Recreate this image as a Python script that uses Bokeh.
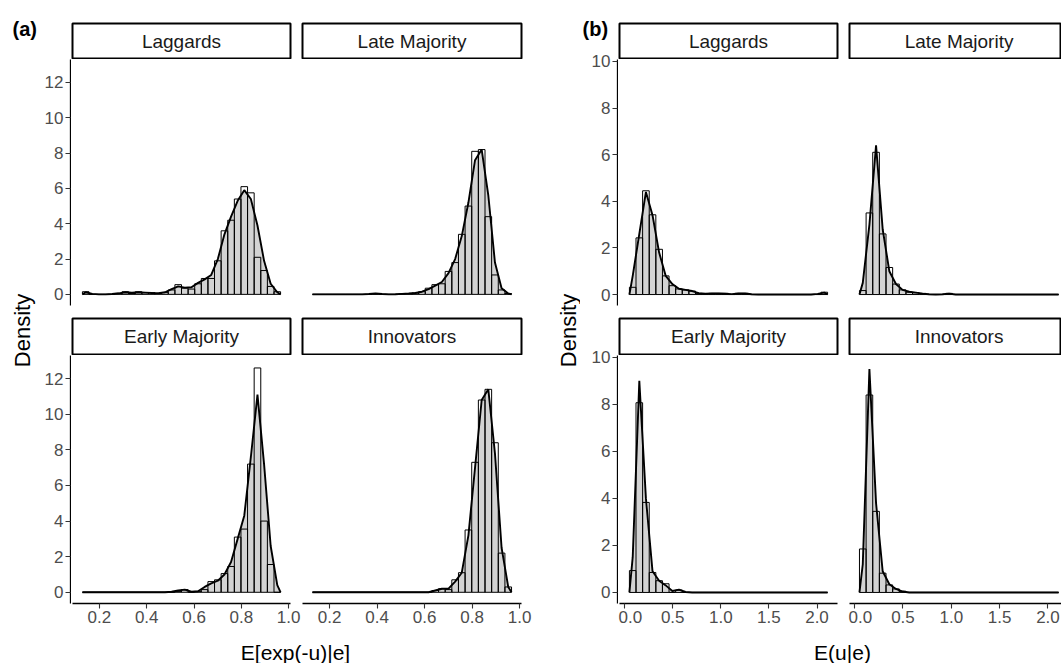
import numpy as np
from math import pi
from bokeh.plotting import figure
from bokeh.layouts import row, column
from bokeh.models import Label, Range1d, FixedTicker, PrintfTickFormatter
from bokeh.embed import file_html
from bokeh.resources import INLINE

FONT = "Liberation Sans"

# ---------------- data ----------------
facet_names = ["Laggards", "Late Majority", "Early Majority", "Innovators"]

# panel (a): E[exp(-u)|e], 30 bins between these limits
a_x_min, a_x_max = 0.128, 0.966
a_lag_hist = [0.15, 0, 0, 0, 0, 0.05, 0.15, 0.05, 0.15, 0.1, 0.1, 0.05, 0.1, 0.25, 0.55,
              0.35, 0.3, 0.6, 0.9, 0.9, 1.9, 3.6, 4.2, 5.4, 6.1, 5.75, 2.1, 1.35, 0.45, 0.15]
a_lag_dens = [0.12, 0.03, 0, 0, 0.02, 0.06, 0.12, 0.1, 0.12, 0.1, 0.08, 0.07, 0.12, 0.3, 0.45,
              0.38, 0.4, 0.65, 0.85, 1.1, 2.0, 3.4, 4.4, 5.3, 5.9, 5.4, 3.9, 1.9, 0.6, 0.12]
a_late_hist = [0, 0, 0, 0, 0, 0, 0, 0, 0, 0.05, 0, 0, 0, 0.03, 0.05,
               0.08, 0.15, 0.35, 0.55, 0.6, 1.3, 1.8, 3.4, 5.0, 8.1, 8.2, 4.4, 1.1, 0.25, 0.05]
a_late_dens = [0, 0, 0, 0, 0, 0, 0, 0, 0.02, 0.05, 0.02, 0, 0.01, 0.03, 0.05,
               0.08, 0.15, 0.3, 0.5, 0.7, 1.2, 2.0, 3.3, 5.2, 7.6, 8.2, 5.6, 1.8, 0.35, 0.05]
a_early_hist = [0, 0, 0, 0, 0, 0, 0, 0, 0, 0, 0, 0, 0, 0, 0.05,
                0.15, 0, 0.05, 0.15, 0.6, 0.7, 1.05, 1.45, 3.1, 3.55, 7.2, 12.6, 4.0, 1.56, 0]
a_early_dens = [0, 0, 0, 0, 0, 0, 0, 0, 0, 0, 0, 0, 0, 0.03, 0.1,
                0.15, 0.03, 0.06, 0.3, 0.5, 0.65, 1.0, 1.7, 3.0, 4.3, 7.6, 11.1, 7.2, 2.6, 0.4]
a_innov_hist = [0, 0, 0, 0, 0, 0, 0, 0, 0, 0, 0, 0, 0, 0, 0,
                0, 0, 0, 0.1, 0.2, 0.15, 0.7, 1.1, 3.5, 7.3, 10.8, 11.4, 8.4, 2.2, 0.3]
a_innov_dens = [0, 0, 0, 0, 0, 0, 0, 0, 0, 0, 0, 0, 0, 0, 0,
                0, 0, 0, 0.1, 0.2, 0.2, 0.6, 1.1, 3.2, 7.0, 10.8, 11.4, 7.8, 2.5, 0.3]

# panel (b): E(u|e), 30 bins between these limits
b_x_min, b_x_max = 0.05, 2.11
b_lag_hist = [0.31, 2.43, 4.45, 3.42, 1.94, 0.8, 0.38, 0.24, 0.2, 0.15, 0.05, 0.03, 0.05, 0.05, 0.05,
              0, 0.05, 0.05, 0, 0, 0, 0, 0, 0, 0, 0, 0, 0, 0, 0.1]
b_lag_dens = [0.8, 2.6, 4.4, 3.4, 1.8, 0.8, 0.45, 0.25, 0.2, 0.15, 0.06, 0.04, 0.05, 0.05, 0.04,
              0.02, 0.05, 0.05, 0.01, 0, 0, 0, 0, 0, 0, 0, 0, 0, 0.03, 0.08]
b_late_hist = [0.17, 3.5, 6.1, 2.6, 1.16, 0.45, 0.2, 0.1, 0.08, 0.05, 0, 0, 0, 0.05, 0,
               0, 0, 0, 0, 0, 0, 0, 0, 0, 0, 0, 0, 0, 0, 0]
b_late_dens = [0.5, 3.0, 6.4, 2.8, 1.0, 0.45, 0.2, 0.12, 0.08, 0.04, 0.01, 0, 0.01, 0.04, 0,
               0, 0, 0, 0, 0, 0, 0, 0, 0, 0, 0, 0, 0, 0, 0]
b_early_hist = [0.93, 8.07, 3.83, 0.85, 0.5, 0.37, 0, 0.1, 0, 0, 0, 0, 0, 0, 0,
                0, 0, 0, 0, 0, 0, 0, 0, 0, 0, 0, 0, 0, 0, 0]
b_early_dens = [1.5, 9.0, 4.0, 0.9, 0.5, 0.3, 0.06, 0.12, 0.02, 0, 0, 0, 0, 0, 0,
                0, 0, 0, 0, 0, 0, 0, 0, 0, 0, 0, 0, 0, 0, 0]
b_innov_hist = [1.85, 8.4, 3.45, 0.82, 0.32, 0.15, 0.05, 0, 0, 0, 0, 0, 0, 0, 0,
                0, 0, 0, 0, 0, 0, 0, 0, 0, 0, 0, 0, 0, 0, 0]
b_innov_dens = [1.2, 9.5, 3.8, 0.9, 0.35, 0.15, 0.04, 0, 0, 0, 0, 0, 0, 0, 0,
                0, 0, 0, 0, 0, 0, 0, 0, 0, 0, 0, 0, 0, 0, 0]

a_x_ticks = [0.2, 0.4, 0.6, 0.8, 1.0]
a_y_ticks = [0, 2, 4, 6, 8, 10, 12]
b_x_ticks = [0.0, 0.5, 1.0, 1.5, 2.0]
b_y_ticks = [0, 2, 4, 6, 8, 10]

a_x_label = "E[exp(-u)|e]"
b_x_label = "E(u|e)"
y_label = "Density"

# ---------------- layout constants ----------------
a_xr = (0.0861, 1.0079)
a_yr = (-0.63, 13.3)
b_xr_full = (-0.053, 2.213)
b_xr_right = (-0.053, 2.140)     # clipped at the window edge as in the original
b_yr = (-0.47, 10.08)

H_S1, H_F1, H_S2, H_F2, H_X = 59, 258, 38, 281, 27
H_BODY = H_S1 + H_F1 + H_S2 + H_F2
H_TAG = 40
FRAME_W = 219
GAP = 12


def style_axis(ax, ticks, fmt):
    ax.ticker = FixedTicker(ticks=ticks)
    ax.formatter = PrintfTickFormatter(format=fmt)
    ax.axis_line_color = "black"
    ax.axis_line_width = 1.3
    ax.major_tick_line_color = "#333333"
    ax.major_tick_line_width = 1.1
    ax.major_tick_out = 5
    ax.major_tick_in = 0
    ax.minor_tick_out = 0
    ax.minor_tick_in = 0
    ax.major_label_standoff = 2
    ax.major_label_text_font = FONT
    ax.major_label_text_font_size = "17px"
    ax.major_label_text_color = "#4D4D4D"


def base_fig(width, height, xr, yr, mbl, mbr, mbt, mbb, xloc=None, yloc=None):
    p = figure(width=width, height=height, x_range=Range1d(*xr), y_range=Range1d(*yr),
               output_backend="svg", toolbar_location=None,
               x_axis_location=xloc, y_axis_location=yloc,
               min_border_left=mbl, min_border_right=mbr,
               min_border_top=mbt, min_border_bottom=mbb)
    p.grid.visible = False
    p.outline_line_color = None
    p.background_fill_color = "white"
    p.border_fill_color = "white"
    return p


def facet(hist, dens, xmin, xmax, xr, yr, width, height, mbl, mbr, mbt, mbb, show_x, xticks):
    p = base_fig(width, height, xr, yr, mbl, mbr, mbt, mbb, "below" if show_x else None, None)
    edges = np.linspace(xmin, xmax, len(hist) + 1)
    centers = (edges[:-1] + edges[1:]) / 2
    dx = np.concatenate([[xmin], centers, [xmax]])
    dy = np.concatenate([[0.0], np.asarray(dens, float), [0.0]])
    p.varea(x=dx, y1=np.zeros_like(dy), y2=dy, fill_color="#D3D3D3")
    p.quad(left=edges[:-1], right=edges[1:], bottom=np.zeros(len(hist)), top=hist,
           fill_color=None, line_color="black", line_width=1.0)
    p.line(dx, dy, line_color="black", line_width=1.9)
    if show_x:
        style_axis(p.xaxis[0], xticks, "%.1f")
    return p


def y_axis_fig(ax_w, height, yr, mbt, mbb, yticks):
    p = base_fig(ax_w, height, (0, 1), yr, ax_w - 1, 0, mbt, mbb, None, "left")
    style_axis(p.yaxis[0], yticks, "%d")
    return p


def strip(name, width, height, xr, label_x, mbl, mbr, mbt, mbb):
    s = base_fig(width, height, xr, (0, 1), mbl, mbr, mbt, mbb)
    s.outline_line_color = "black"
    s.outline_line_width = 2
    s.add_layout(Label(x=label_x, y=0.5, text=name, text_align="center",
                       text_baseline="middle", text_font=FONT,
                       text_font_size="19px", text_color="#1A1A1A"))
    return s


def text_fig(width, height):
    return base_fig(width, height, (0, width), (0, height), 0, 0, 0, 0)


def build_panel(tag, tag_x, hists, denss, xmin, xmax, xr_l, xr_r, xr_full,
                yr, dens_w, ax_w, mbr_l, frame_r, mbr_r, xticks, yticks, xlabel, dens_x):
    w_l = FRAME_W + mbr_l
    w_r = 1 + frame_r + mbr_r
    lx_l = (xr_l[0] + xr_l[1]) / 2
    lx_r = (xr_full[0] + xr_full[1]) / 2

    # panel tag above the y-axis title and the y axes
    tfig = text_fig(dens_w + ax_w, H_TAG)
    tfig.add_layout(Label(x=tag_x, y=H_TAG - 17, text=tag, text_align="left",
                          text_baseline="top", text_font=FONT, text_font_size="20px",
                          text_font_style="bold", text_color="black"))

    # y-axis title
    h_d = H_BODY - H_TAG
    dfig = text_fig(dens_w, h_d)
    dfig.add_layout(Label(x=dens_x, y=H_BODY - 330, text=y_label, angle=pi / 2,
                          text_align="center", text_baseline="middle", text_font=FONT,
                          text_font_size="22px", text_color="black"))

    # y axes of the two rows
    ya_top = y_axis_fig(ax_w, H_S1 + H_F1 - H_TAG, yr, H_S1 - H_TAG, 12, yticks)
    ya_bot = y_axis_fig(ax_w, H_S2 + H_F2, yr, H_S2, 33, yticks)
    left_block = column(tfig, row(dfig, column(ya_top, ya_bot)))

    # strips and facets
    s1l = strip(facet_names[0], w_l, H_S1, xr_l, lx_l, 1, mbr_l, 23, 1)
    f1l = facet(hists[0], denss[0], xmin, xmax, xr_l, yr, w_l, H_F1, 0, mbr_l, 0, 12, False, xticks)
    s2l = strip(facet_names[2], w_l, H_S2, xr_l, lx_l, 1, mbr_l, 1, 1)
    f2l = facet(hists[2], denss[2], xmin, xmax, xr_l, yr, w_l, H_F2, 0, mbr_l, 0, 33, True, xticks)
    s1r = strip(facet_names[1], w_r, H_S1, xr_r, lx_r, 1, mbr_r, 23, 1)
    f1r = facet(hists[1], denss[1], xmin, xmax, xr_r, yr, w_r, H_F1, 1, mbr_r, 0, 12, False, xticks)
    s2r = strip(facet_names[3], w_r, H_S2, xr_r, lx_r, 1, mbr_r, 1, 1)
    f2r = facet(hists[3], denss[3], xmin, xmax, xr_r, yr, w_r, H_F2, 1, mbr_r, 0, 33, True, xticks)

    # x-axis title, centred over both facets
    panel_w = dens_w + ax_w + w_l + w_r
    xt = text_fig(panel_w, H_X)
    xt.add_layout(Label(x=dens_w + ax_w - 1 + (2 * FRAME_W + GAP) / 2, y=11, text=xlabel,
                        text_align="center", text_baseline="middle", text_font=FONT,
                        text_font_size="21px", text_color="black"))

    body = row(left_block, column(s1l, f1l, s2l, f2l), column(s1r, f1r, s2r, f2r))
    return column(body, xt)


panelA = build_panel("(a)", 12, [a_lag_hist, a_late_hist, a_early_hist, a_innov_hist],
                     [a_lag_dens, a_late_dens, a_early_dens, a_innov_dens],
                     a_x_min, a_x_max, a_xr, a_xr, a_xr, a_yr,
                     40, 31, 11, FRAME_W, 19, a_x_ticks, a_y_ticks, a_x_label, 22)
panelB = build_panel("(b)", 42, [b_lag_hist, b_late_hist, b_early_hist, b_innov_hist],
                     [b_lag_dens, b_late_dens, b_early_dens, b_innov_dens],
                     b_x_min, b_x_max, b_xr_full, b_xr_right, b_xr_full, b_yr,
                     40, 38, 11, 212, 0, b_x_ticks, b_y_ticks, b_x_label, 28)

layout = row(panelA, panelB)
open("out.html", "w").write(file_html(layout, INLINE))
